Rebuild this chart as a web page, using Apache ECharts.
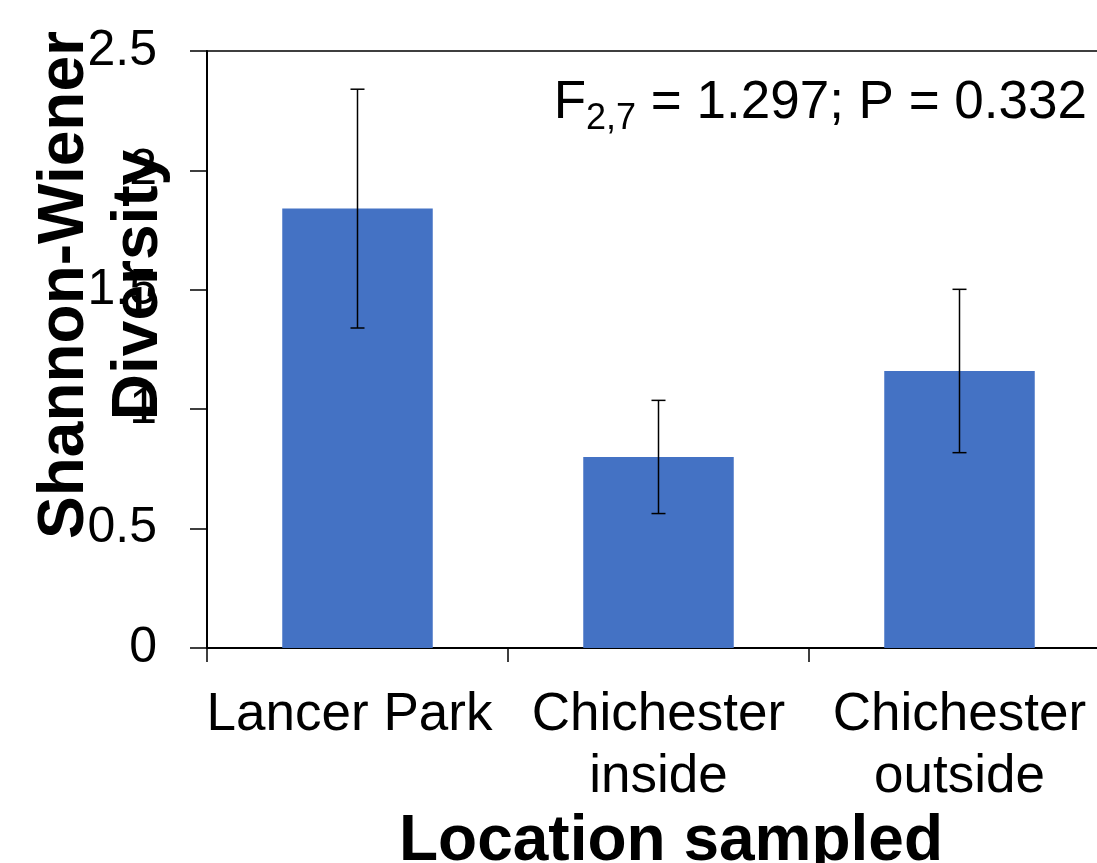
<!DOCTYPE html>
<html>
<head>
<meta charset="utf-8">
<script src="https://cdn.jsdelivr.net/npm/echarts@6/dist/echarts.min.js"></script>
<style>
  html, body { margin: 0; padding: 0; background: #fff; }
  #chart { width: 1097px; height: 863px; }
</style>
</head>
<body>
<div id="chart"></div>
<script>
// data
var categories = ['Lancer Park', 'Chichester\ninside', 'Chichester\noutside'];
var means = [1.84, 0.80, 1.16];
var errors = [0.50, 0.237, 0.342];
var yTicks = { min: 0, max: 2.5, interval: 0.5 };

var FONT = '"Liberation Sans", Arial, sans-serif';

var chart = echarts.init(document.getElementById('chart'));

var errData = means.map(function (m, i) { return [i, m, errors[i]]; });

var option = {
  animation: false,
  backgroundColor: '#fff',
  textStyle: { fontFamily: FONT, color: '#000' },
  grid: {
    left: 207, top: 51, width: 903, height: 597,
    outerBoundsMode: 'none',
    containLabel: false,
    show: true, borderColor: '#000', borderWidth: 1.5,
    backgroundColor: 'transparent'
  },
  xAxis: {
    type: 'category',
    data: categories,
    axisLine: { lineStyle: { color: '#000', width: 2 } },
    axisTick: { show: true, length: 14, lineStyle: { color: '#000', width: 1.5 } },
    axisLabel: {
      interval: 0, fontSize: 53, lineHeight: 62, color: '#000',
      fontFamily: FONT, margin: 36,
      formatter: function (v, i) {
        // first label sits a little left in the original
        return i === 0 ? '{lp|' + v + '}' : v;
      },
      rich: {
        lp: { fontSize: 53, lineHeight: 62, fontFamily: FONT, color: '#000', padding: [0, 16, 0, 0] }
      }
    }
  },
  yAxis: {
    type: 'value',
    min: yTicks.min, max: yTicks.max, interval: yTicks.interval,
    axisLine: { show: true, lineStyle: { color: '#000', width: 2 } },
    axisTick: { show: true, length: 17, lineStyle: { color: '#000', width: 1.5 } },
    splitLine: { show: false },
    axisLabel: { fontSize: 50, color: '#000', fontFamily: FONT, margin: 50 }
  },
  graphic: [
    {
      type: 'text', x: 102, y: 285, rotation: Math.PI / 2, z: 100,
      style: {
        text: 'Shannon-Wiener\nDiversity',
        font: 'bold 64px ' + FONT, fill: '#000',
        align: 'center', verticalAlign: 'middle', lineHeight: 74
      }
    },
    {
      type: 'text', x: 671, y: 842, z: 100,
      style: {
        text: 'Location sampled',
        font: 'bold 64px ' + FONT, fill: '#000',
        align: 'center', verticalAlign: 'middle'
      }
    },
    {
      type: 'text', x: 1087, y: 77, z: 100,
      style: {
        text: '{a|F}{b|2,7}{a| = 1.297; P = 0.332}',
        align: 'right', verticalAlign: 'top',
        rich: {
          a: { fontSize: 53, fontFamily: FONT, fill: '#000', lineHeight: 60, verticalAlign: 'top' },
          b: { fontSize: 36, fontFamily: FONT, fill: '#000', lineHeight: 24, verticalAlign: 'bottom' }
        }
      }
    }
  ],
  series: [
    {
      type: 'bar',
      data: means,
      barWidth: '50%',
      itemStyle: { color: '#4472C4' },
      z: 2
    },
    {
      type: 'custom',
      data: errData,
      z: 5,
      renderItem: function (params, api) {
        var i = api.value(0), m = api.value(1), e = api.value(2);
        var top = api.coord([i, m + e]);
        var bot = api.coord([i, m - e]);
        var hw = 7;
        var st = { stroke: '#000', lineWidth: 1.5 };
        return {
          type: 'group',
          children: [
            { type: 'line', shape: { x1: top[0], y1: top[1], x2: bot[0], y2: bot[1] }, style: st },
            { type: 'line', shape: { x1: top[0] - hw, y1: top[1], x2: top[0] + hw, y2: top[1] }, style: st },
            { type: 'line', shape: { x1: bot[0] - hw, y1: bot[1], x2: bot[0] + hw, y2: bot[1] }, style: st }
          ]
        };
      }
    }
  ]
};

chart.setOption(option);
</script>
</body>
</html>
